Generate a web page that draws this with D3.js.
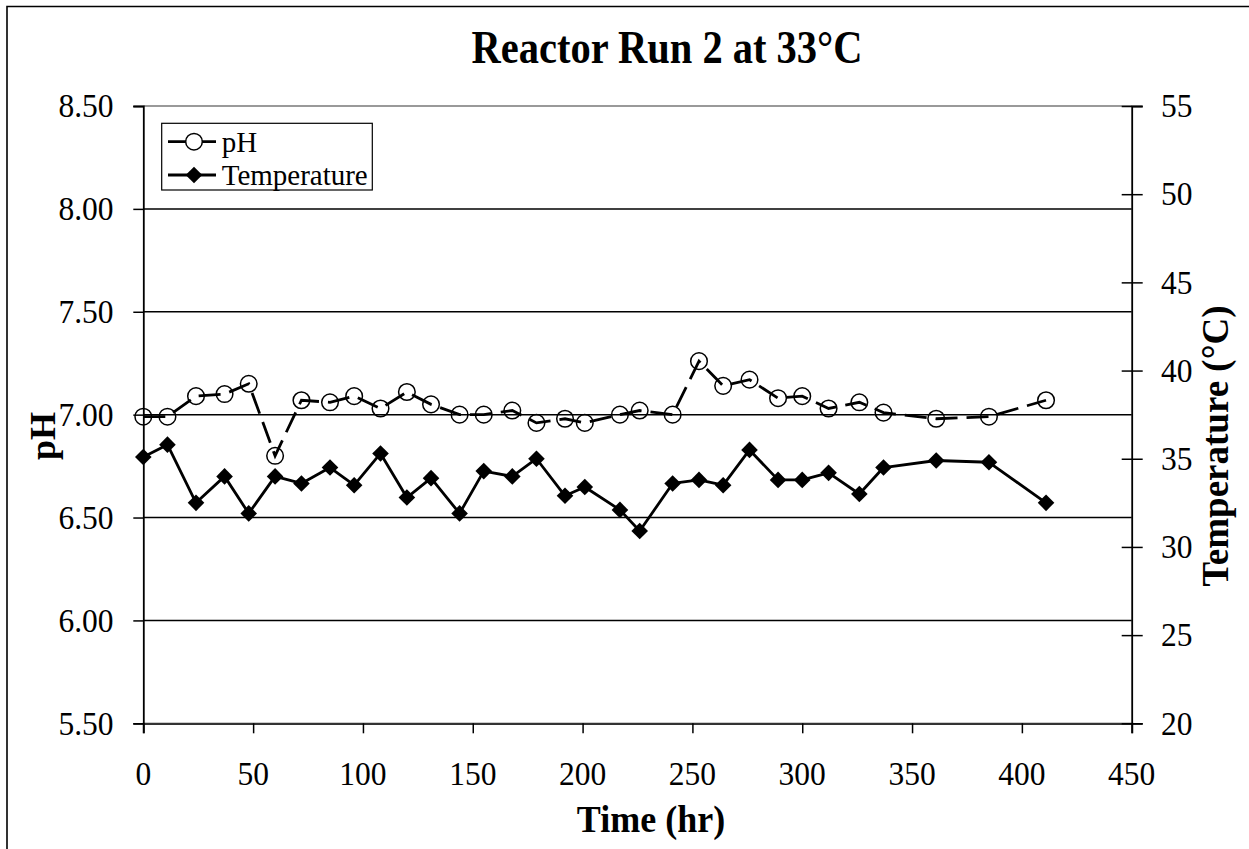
<!DOCTYPE html>
<html>
<head>
<meta charset="utf-8">
<script src="https://cdn.jsdelivr.net/npm/d3@7"></script>
<style>
  body { margin: 0; background: #fff; }
  svg text { font-family: "Liberation Serif", "Times New Roman", serif; fill: #000; }
</style>
</head>
<body>
<svg id="chart" width="1249" height="849"></svg>
<script>
// Sampling times (hours) shared by both series
const timeHr = [0, 11, 24, 37, 48, 60, 72, 85, 96, 108, 120, 131, 144, 155, 168, 179,
                192, 201, 217, 226, 241, 253, 264, 276, 289, 300, 312, 326, 337, 361, 385, 411];

// Reactor pH readings
const phValues = [6.99, 6.99, 7.09, 7.10, 7.15, 6.80, 7.07, 7.06, 7.09, 7.03, 7.11, 7.05, 7.00, 7.00, 7.02, 6.96,
                  6.98, 6.96, 7.00, 7.02, 7.00, 7.26, 7.14, 7.17, 7.08, 7.09, 7.03, 7.06, 7.01, 6.98, 6.99, 7.07];

// Reactor temperature readings (°C)
const tempValues = [35.1, 35.8, 32.5, 34.0, 31.9, 34.0, 33.6, 34.5, 33.5, 35.3, 32.8, 33.9, 31.9, 34.3, 34.0, 35.0,
                    32.9, 33.4, 32.1, 30.9, 33.6, 33.8, 33.5, 35.5, 33.8, 33.8, 34.2, 33.0, 34.5, 34.9, 34.8, 32.5];

// Axis ticks
const xTicks = [0, 50, 100, 150, 200, 250, 300, 350, 400, 450];
const phTicks = [5.5, 6.0, 6.5, 7.0, 7.5, 8.0, 8.5];
const tempTicks = [20, 25, 30, 35, 40, 45, 50, 55];

const svg = d3.select("#chart");

const plot = { left: 143.3, right: 1131.7, top: 106, bottom: 723.3 };

const x = d3.scaleLinear().domain([0, 450]).range([plot.left, plot.right]);
const yPh = d3.scaleLinear().domain([5.5, 8.5]).range([plot.bottom, plot.top]);
const yTemp = d3.scaleLinear().domain([20, 55]).range([plot.bottom, plot.top]);

// Outer chart frame
svg.append("path")
  .attr("d", "M7,849 V6.5 H1249")
  .attr("fill", "none").attr("stroke", "#000").attr("stroke-width", 1.6);

// Plot area top border
svg.append("line")
  .attr("x1", plot.left).attr("x2", plot.right)
  .attr("y1", plot.top).attr("y2", plot.top)
  .attr("stroke", "#777").attr("stroke-width", 1.5);

// Horizontal gridlines
svg.append("g").selectAll("line")
  .data(phTicks.filter(v => v > 5.5 && v < 8.5))
  .join("line")
  .attr("x1", plot.left).attr("x2", plot.right)
  .attr("y1", d => yPh(d)).attr("y2", d => yPh(d))
  .attr("stroke", "#000").attr("stroke-width", 1.5);

// Axes (lines and tick marks)
const xAxis = svg.append("g")
  .attr("transform", `translate(0,${plot.bottom})`)
  .call(d3.axisBottom(x).tickValues(xTicks).tickSize(10).tickFormat(""));
const yAxisL = svg.append("g")
  .attr("transform", `translate(${plot.left},0)`)
  .call(d3.axisLeft(yPh).tickValues(phTicks).tickSize(10).tickFormat(""));
const yAxisR = svg.append("g")
  .attr("transform", `translate(${plot.right},0)`)
  .call(d3.axisRight(yTemp).tickValues(tempTicks).tickSize(11).tickFormat(""));
yAxisR.selectAll(".tick line").attr("x1", -10);

[xAxis, yAxisL, yAxisR].forEach(g => {
  g.select(".domain").attr("stroke", "#000").attr("stroke-width", 1.8);
  g.selectAll(".tick line").attr("stroke", "#000").attr("stroke-width", 1.5);
});
xAxis.select(".domain").attr("stroke", "#333").attr("stroke-width", 2.2);

// Tick labels (slightly tall glyphs)
function label(g, tx, ty, str, opts) {
  const t = g.append("text")
    .attr("transform", `translate(${tx},${ty}) scale(1,${opts.sy || 1})`)
    .attr("text-anchor", opts.anchor || "start")
    .attr("font-size", opts.size)
    .attr("font-weight", opts.weight || "normal")
    .text(str);
  return t;
}

const labels = svg.append("g");
xTicks.forEach(v => label(labels, x(v), 785, String(v), { anchor: "middle", size: 31.5, sy: 1.08 }));
phTicks.forEach(v => label(labels, 113.5, yPh(v) + 11.3, v.toFixed(2), { anchor: "end", size: 31.5, sy: 1.08 }));
tempTicks.forEach(v => label(labels, 1161, yTemp(v) + 11.3, String(v), { anchor: "start", size: 31.5, sy: 1.08 }));

// Title and axis titles
label(svg, 667, 63, "Reactor Run 2 at 33°C", { anchor: "middle", size: 40.5, weight: "bold", sy: 1.15 });
label(svg, 651, 832, "Time (hr)", { anchor: "middle", size: 36, weight: "bold", sy: 1.05 });

svg.append("text")
  .attr("transform", "translate(55,436) rotate(-90)")
  .attr("text-anchor", "middle").attr("font-size", 36).attr("font-weight", "bold")
  .text("pH");
svg.append("text")
  .attr("transform", "translate(1228,446) rotate(-90)")
  .attr("text-anchor", "middle").attr("font-size", 37).attr("font-weight", "bold")
  .text("Temperature (°C)");

// Series data
const rows = timeHr.map((t, i) => ({ t, ph: phValues[i], temp: tempValues[i] }));

// Temperature: solid line with diamond markers
svg.append("path")
  .datum(rows)
  .attr("fill", "none").attr("stroke", "#000").attr("stroke-width", 2.8)
  .attr("stroke-linejoin", "round")
  .attr("d", d3.line().x(d => x(d.t)).y(d => yTemp(d.temp)));

const diamond = d3.symbol().type(d3.symbolSquare).size(138);
svg.append("g").selectAll("path")
  .data(rows)
  .join("path")
  .attr("d", diamond)
  .attr("transform", d => `translate(${x(d.t)},${yTemp(d.temp)}) rotate(45)`)
  .attr("fill", "#000");

// pH: dashed line with open circle markers
svg.append("path")
  .datum(rows)
  .attr("fill", "none").attr("stroke", "#000").attr("stroke-width", 2.8)
  .attr("stroke-dasharray", "22,9")
  .attr("d", d3.line().x(d => x(d.t)).y(d => yPh(d.ph)));

svg.append("g").selectAll("circle")
  .data(rows)
  .join("circle")
  .attr("cx", d => x(d.t)).attr("cy", d => yPh(d.ph)).attr("r", 8.3)
  .attr("fill", "none").attr("stroke", "#000").attr("stroke-width", 1.5);

// Legend
const legend = svg.append("g");
legend.append("rect")
  .attr("x", 161.7).attr("y", 123.3).attr("width", 210.6).attr("height", 66.7)
  .attr("fill", "#fff").attr("stroke", "#000").attr("stroke-width", 1.2);

const legendItems = [
  { name: "pH", y: 141.7, marker: "circle" },
  { name: "Temperature", y: 175, marker: "diamond" }
];
legendItems.forEach(item => {
  legend.append("line")
    .attr("x1", 168).attr("x2", 216).attr("y1", item.y).attr("y2", item.y)
    .attr("stroke", "#000").attr("stroke-width", 2.8);
  if (item.marker === "circle") {
    legend.append("circle")
      .attr("cx", 194).attr("cy", item.y).attr("r", 8.3)
      .attr("fill", "#fff").attr("stroke", "#000").attr("stroke-width", 1.5);
  } else {
    legend.append("path")
      .attr("d", diamond)
      .attr("transform", `translate(194,${item.y}) rotate(45)`)
      .attr("fill", "#000");
  }
  label(legend, 221.7, item.y + 10, item.name, { anchor: "start", size: 29, sy: 1.05 });
});
</script>
</body>
</html>
